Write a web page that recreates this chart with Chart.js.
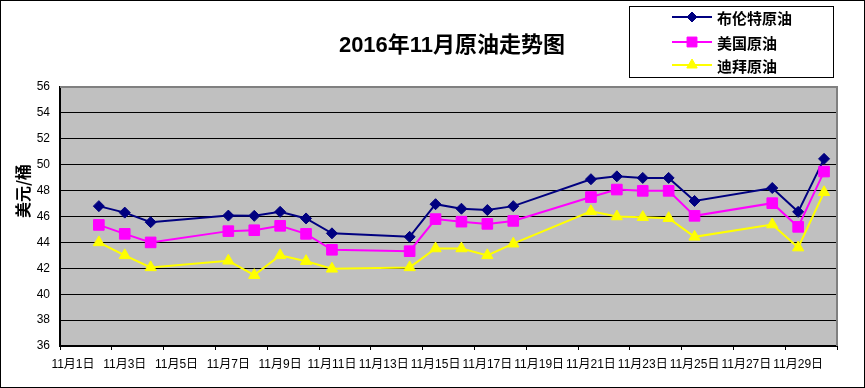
<!DOCTYPE html>
<html lang="zh-CN">
<head>
<meta charset="utf-8">
<title>2016年11月原油走势图</title>
<script src="https://cdn.jsdelivr.net/npm/chart.js@4/dist/chart.umd.min.js"></script>
<style>
    html, body { margin: 0; padding: 0; background: #fff; }
    #oilChart { display: block; }
</style>
</head>
<body>
<canvas id="oilChart" width="865" height="388"></canvas>
<script>
// trading days in November 2016
const days = [2, 3, 4, 7, 8, 9, 10, 11, 14, 15, 16, 17, 18, 21, 22, 23, 24, 25, 28, 29, 30];

const seriesNames = ['布伦特原油', '美国原油', '迪拜原油'];
const brent = [46.8, 46.3, 45.56, 46.07, 46.05, 46.36, 45.85, 44.7, 44.43, 46.95, 46.6, 46.5, 46.8, 48.88, 49.1, 48.98, 48.98, 47.2, 48.2, 46.36, 50.45];
const wti = [45.35, 44.66, 44.0, 44.87, 44.94, 45.28, 44.66, 43.43, 43.32, 45.8, 45.6, 45.43, 45.66, 47.5, 48.08, 47.98, 47.98, 46.05, 47.03, 45.2, 49.47];
const dubai = [44.0, 43.0, 42.07, 42.58, 41.47, 43.0, 42.55, 41.96, 42.07, 43.53, 43.53, 43.0, 43.9, 46.4, 46.0, 45.95, 45.87, 44.43, 45.38, 43.6, 47.87];

// x labels every second day, y ticks every 2 dollars
const xTickDays = [1, 3, 5, 7, 9, 11, 13, 15, 17, 19, 21, 23, 25, 27, 29];
const yTicks = [36, 38, 40, 42, 44, 46, 48, 50, 52, 54, 56];

const chartTitle = '2016年11月原油走势图';
const yTitle = '美元/桶';

(function() {
    'use strict';

    const FONT = '"Liberation Sans", "Noto Sans CJK SC", sans-serif';
    const CJK = '"Noto Sans CJK SC", "Liberation Sans", sans-serif';

    const styles = [
        { color: '#000080', pointStyle: 'rectRot', radius: 5.5 },
        { color: '#FF00FF', pointStyle: 'rect', radius: 7.5 },
        { color: '#FFFF00', pointStyle: 'triangle', radius: 6.5 }
    ];

    function toPoints(values) {
        return values.map((v, i) => ({ x: days[i], y: v }));
    }

    function buildDatasets() {
        return [brent, wti, dubai].map((values, i) => ({
            label: seriesNames[i],
            data: toPoints(values),
            borderColor: styles[i].color,
            backgroundColor: styles[i].color,
            pointBackgroundColor: styles[i].color,
            pointBorderColor: styles[i].color,
            pointStyle: styles[i].pointStyle,
            pointRadius: styles[i].radius,
            pointBorderWidth: 1,
            borderWidth: 2,
            tension: 0,
            order: 2 - i
        }));
    }

    const framePlugin = {
        id: 'frame',
        beforeDraw(chart) {
            const { ctx, chartArea: a } = chart;
            ctx.save();
            ctx.fillStyle = '#fff';
            ctx.fillRect(0, 0, chart.width, chart.height);
            ctx.fillStyle = '#C0C0C0';
            ctx.fillRect(a.left, a.top, a.right - a.left, a.bottom - a.top);
            ctx.restore();
        },
        beforeDatasetsDraw(chart) {
            const { ctx, chartArea: a } = chart;
            ctx.save();
            ctx.strokeStyle = '#808080';
            ctx.lineWidth = 2;
            ctx.beginPath();
            ctx.moveTo(a.left, a.top);
            ctx.lineTo(a.right, a.top);
            ctx.lineTo(a.right, a.bottom);
            ctx.stroke();
            ctx.restore();
        },
        afterDraw(chart) {
            const ctx = chart.ctx;
            ctx.save();

            // outer border
            ctx.strokeStyle = '#000';
            ctx.lineWidth = 1;
            ctx.strokeRect(0.5, 0.5, chart.width - 1, chart.height - 1);

            // title
            ctx.fillStyle = '#000';
            ctx.font = 'bold 22px ' + FONT;
            ctx.textAlign = 'center';
            ctx.textBaseline = 'middle';
            ctx.fillText(chartTitle, 452, 46);

            // y axis title
            ctx.save();
            ctx.translate(23, 191);
            ctx.rotate(-Math.PI / 2);
            ctx.font = 'bold 16px ' + CJK;
            ctx.fillText(yTitle, 0, 0);
            ctx.restore();

            // legend box
            ctx.strokeRect(629.5, 6.5, 204, 71);
            const rows = [17, 42, 65];
            ctx.font = 'bold 15px ' + CJK;
            ctx.textAlign = 'left';
            seriesNames.forEach((name, i) => {
                const y = rows[i];
                const s = styles[i];
                ctx.strokeStyle = s.color;
                ctx.fillStyle = s.color;
                ctx.lineWidth = 2;
                ctx.beginPath();
                ctx.moveTo(672, y);
                ctx.lineTo(712, y);
                ctx.stroke();
                ctx.lineWidth = 1;
                Chart.helpers.drawPoint(ctx, { pointStyle: s.pointStyle, radius: s.radius - 0.5, borderWidth: 1, rotation: 0 }, 692, y);
                ctx.fillStyle = '#000';
                ctx.fillText(name, 717, y + 1);
            });
            ctx.restore();
        }
    };

    function initChart() {
        const canvas = document.getElementById('oilChart');
        if (!canvas || typeof Chart === 'undefined') {
            return;
        }

        new Chart(canvas, {
            type: 'line',
            data: { datasets: buildDatasets() },
            options: {
                responsive: false,
                animation: false,
                devicePixelRatio: 1,
                layout: { padding: { top: 87, right: 28, left: 0, bottom: 0 } },
                plugins: {
                    legend: { display: false },
                    title: { display: false },
                    tooltip: { enabled: false }
                },
                scales: {
                    x: {
                        type: 'linear',
                        min: 0.5,
                        max: 30.5,
                        afterBuildTicks(scale) {
                            const ticks = [];
                            xTickDays.forEach((d) => {
                                ticks.push({ value: d - 0.5 });
                                ticks.push({ value: d });
                            });
                            ticks.push({ value: 30.5 });
                            scale.ticks = ticks;
                        },
                        afterFit(scale) {
                            scale.height = 42;
                        },
                        ticks: {
                            autoSkip: false,
                            maxRotation: 0,
                            minRotation: 0,
                            padding: 7,
                            color: '#000',
                            font: { family: FONT, size: 12 },
                            callback(value) {
                                return xTickDays.includes(value) ? '11月' + value + '日' : '';
                            }
                        },
                        grid: {
                            drawOnChartArea: false,
                            tickLength: 4,
                            tickColor(c) {
                                return c.tick && Number.isInteger(c.tick.value) ? 'rgba(0,0,0,0)' : '#000';
                            }
                        },
                        border: { color: '#000', width: 2 }
                    },
                    y: {
                        min: 36,
                        max: 56,
                        afterBuildTicks(scale) {
                            scale.ticks = yTicks.map((v) => ({ value: v }));
                        },
                        afterFit(scale) {
                            scale.width = 60;
                        },
                        ticks: {
                            padding: 10,
                            color: '#000',
                            font: { family: FONT, size: 12 }
                        },
                        grid: {
                            drawTicks: false,
                            lineWidth: 1,
                            color(c) {
                                return c.tick && (c.tick.value === 56 || c.tick.value === 36) ? 'rgba(0,0,0,0)' : '#000';
                            }
                        },
                        border: { color: '#000', width: 2 }
                    }
                }
            },
            plugins: [framePlugin]
        });
    }

    if (document.readyState === 'loading') {
        document.addEventListener('DOMContentLoaded', initChart);
    } else {
        initChart();
    }
})();
</script>
</body>
</html>
